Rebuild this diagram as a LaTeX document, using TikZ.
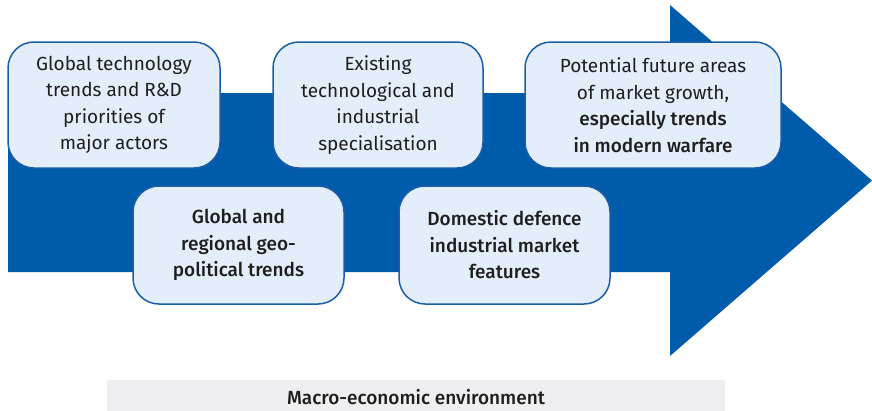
\documentclass[tikz,border=0pt]{standalone}
\usepackage{fontspec}
\setmainfont{Fira Sans}[BoldFont={Fira Sans Medium}]
\definecolor{arrowblue}{HTML}{005BAA}
\definecolor{boxfill}{HTML}{E4EEFA}
\definecolor{boxline}{HTML}{1B5EA8}
\definecolor{envfill}{HTML}{EFEFF2}
\definecolor{txt}{HTML}{1E1E1E}
\begin{document}
\begin{tikzpicture}[x=1pt,y=-1pt,
    factor/.style={draw=boxline,line width=1.5pt,fill=boxfill,rounded corners=26pt,
      align=center,text=txt,font=\fontsize{19}{26.5}\selectfont,inner sep=0pt},
    env/.style={fill=envfill,text=txt,font=\fontsize{19}{26}\selectfont\bfseries,inner sep=0pt}]
  \useasboundingbox (0,0) rectangle (872,410);
  \fill[arrowblue] (8,93) -- (670,93) -- (670,5) -- (872,180.5)
    -- (670,356) -- (670,272) -- (8,272) -- cycle;
  \node[env,minimum width=618pt,minimum height=34pt] (macro) at (416,397)
    {Macro-economic environment};
  \draw
    (114,105) node[factor,minimum width=212pt,minimum height=126pt] (tech)
      {Global technology\\trends and R\&D\\priorities of\\major actors}
    (378,105) node[factor,minimum width=210pt,minimum height=126pt] (spec)
      {Existing\\technological and\\industrial\\specialisation}
    (653,105) node[factor,minimum width=256pt,minimum height=126pt] (growth)
      {Potential future areas\\of market growth,\\\textbf{especially trends}\\\textbf{in modern warfare}}
    (238.5,245) node[factor,minimum width=211pt,minimum height=118pt,font=\fontsize{19}{26.5}\selectfont\bfseries] (geo)
      {Global and\\regional geo-\\political trends}
    (504.5,245) node[factor,minimum width=211pt,minimum height=118pt,font=\fontsize{19}{26.5}\selectfont\bfseries] (market)
      {Domestic defence\\industrial market\\features};
\end{tikzpicture}
\end{document}
